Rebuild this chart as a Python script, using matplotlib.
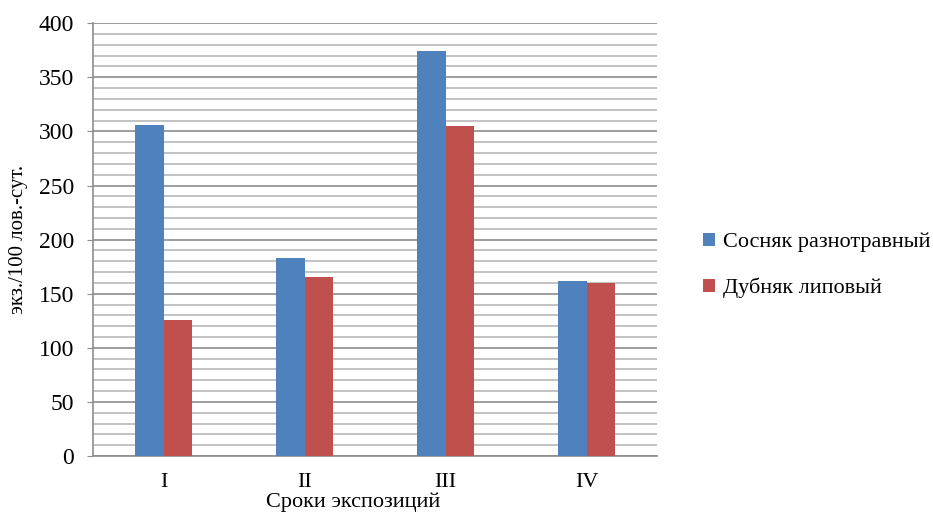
import numpy as np
import matplotlib
matplotlib.use('Agg')
import matplotlib.pyplot as plt
from matplotlib.ticker import MultipleLocator

periods = ['I', 'II', 'III', 'IV']
pine = [306, 183, 374, 162]
oak = [126, 165, 305, 160]
series_names = ['Сосняк разнотравный', 'Дубняк липовый']

plt.rcParams['font.family'] = ['Liberation Serif', 'DejaVu Serif']

fig = plt.figure(figsize=(9.33, 5.16), dpi=100)
ax = fig.add_axes([0.0997, 0.1163, 0.6045, 0.8387])

X = np.arange(len(periods))
w = 0.2
ax.bar(X - w / 2, pine, width=w, color='#4f81bd', label=series_names[0], zorder=3)
ax.bar(X + w / 2, oak, width=w, color='#c0504d', label=series_names[1], zorder=3)

ax.set_xlim(-0.5, 3.5)
ax.set_ylim(0, 400)
ax.yaxis.set_major_locator(MultipleLocator(50))
ax.yaxis.set_minor_locator(MultipleLocator(10))
ax.grid(which='major', axis='y', color='#8c8c8c', linewidth=1.2, zorder=0)
ax.grid(which='minor', axis='y', color='#b8b8b8', linewidth=1.2, zorder=0)

ax.set_xticks(X)
ax.set_xticklabels(periods)
ax.tick_params(axis='x', length=0, pad=12, labelsize=16)
ax.tick_params(axis='y', which='major', length=4.5, color='#8c8c8c', labelsize=17, pad=9)
ax.tick_params(axis='y', which='minor', length=0)

for s in ['top', 'right']:
    ax.spines[s].set_visible(False)
for s in ['left', 'bottom']:
    ax.spines[s].set_color('#8c8c8c')
    ax.spines[s].set_linewidth(1.2)

ax.set_ylabel('экз./100 лов.-сут.', fontsize=15)
ax.yaxis.set_label_coords(-0.115, 0.5)
ax.set_xlabel('Сроки экспозиций', fontsize=16)
ax.xaxis.set_label_coords(0.461, -0.085)

ax.legend(loc='center left', bbox_to_anchor=(1.082, 0.44), frameon=False,
          fontsize=16, handlelength=0.55, handleheight=0.55, handletextpad=0.35,
          labelspacing=1.15, borderpad=0, borderaxespad=0)

plt.savefig('out.png', dpi=100)
